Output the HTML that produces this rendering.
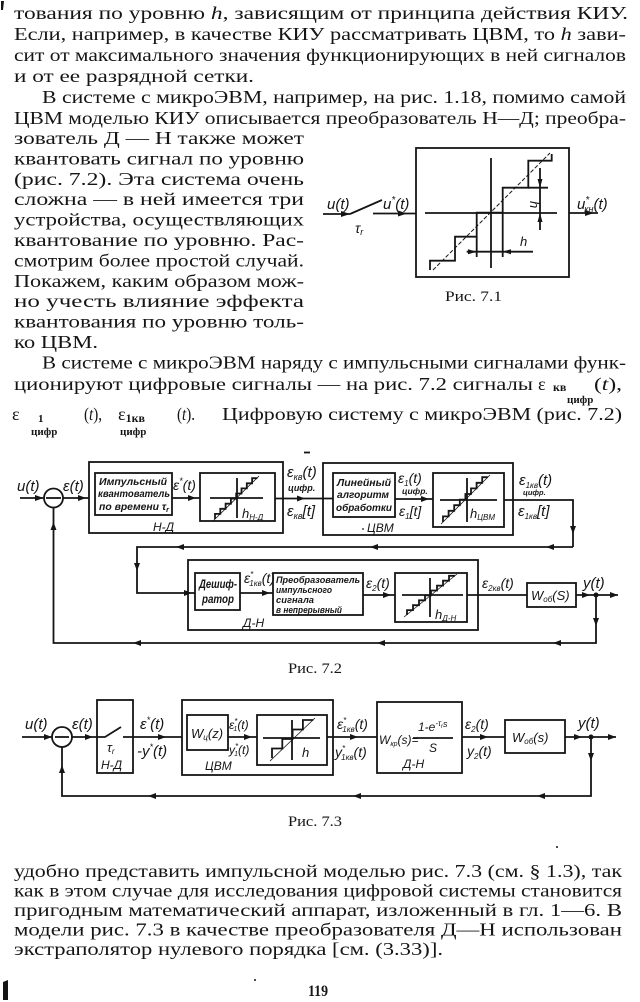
<!DOCTYPE html>
<html><head><meta charset="utf-8">
<style>
html,body{margin:0;padding:0;background:#fff;}
svg{display:block;}
.b{font-family:"Liberation Serif","DejaVu Serif",serif;font-size:18px;fill:#151515;}
.l{font-family:"Liberation Sans","DejaVu Sans",sans-serif;font-style:italic;fill:#151515;}
.c{font-family:"Liberation Serif","DejaVu Serif",serif;font-size:15px;fill:#151515;}
.s{stroke:#151515;stroke-width:1.8;fill:none;}
.a{fill:#151515;}
</style></head><body>
<svg width="640" height="1002" viewBox="0 0 640 1002" xmlns="http://www.w3.org/2000/svg">
<rect width="640" height="1002" fill="#fff"/>

<!-- page marks -->
<path d="M1 1 L4 1 L3 10 L1 10 Z" class="a"/>
<path d="M3 982 L8 980 L8 1000 L3 1000 Z" class="a"/>
<circle cx="255" cy="980" r="1" class="a"/>
<circle cx="557" cy="847" r="1" class="a"/>

<!-- top paragraph text -->
<text class="b" x="14" y="19" textLength="614" lengthAdjust="spacingAndGlyphs">тования по уровню <tspan font-style="italic">h</tspan>, зависящим от принципа действия КИУ.</text>
<text class="b" x="14" y="40" textLength="612" lengthAdjust="spacingAndGlyphs">Если, например, в качестве КИУ рассматривать ЦВМ, то <tspan font-style="italic">h</tspan> зави-</text>
<text class="b" x="14" y="61" textLength="612" lengthAdjust="spacingAndGlyphs">сит от максимального значения функционирующих в ней сигналов</text>
<text class="b" x="14" y="82" textLength="240" lengthAdjust="spacingAndGlyphs">и от ее разрядной сетки.</text>
<text class="b" x="42" y="103" textLength="584" lengthAdjust="spacingAndGlyphs">В системе с микроЭВМ, например, на рис. 1.18, помимо самой</text>
<text class="b" x="14" y="124" textLength="612" lengthAdjust="spacingAndGlyphs">ЦВМ моделью КИУ описывается преобразователь Н—Д; преобра-</text>
<text class="b" x="14" y="144" textLength="290" lengthAdjust="spacingAndGlyphs">зователь Д — Н также может</text>
<text class="b" x="14" y="164.4" textLength="290" lengthAdjust="spacingAndGlyphs">квантовать сигнал по уровню</text>
<text class="b" x="14" y="184.8" textLength="290" lengthAdjust="spacingAndGlyphs">(рис. 7.2). Эта система очень</text>
<text class="b" x="14" y="205.2" textLength="290" lengthAdjust="spacingAndGlyphs">сложна — в ней имеется три</text>
<text class="b" x="14" y="225.6" textLength="290" lengthAdjust="spacingAndGlyphs">устройства, осуществляющих</text>
<text class="b" x="14" y="246" textLength="290" lengthAdjust="spacingAndGlyphs">квантование по уровню. Рас-</text>
<text class="b" x="14" y="266.4" textLength="290" lengthAdjust="spacingAndGlyphs">смотрим более простой случай.</text>
<text class="b" x="14" y="286.8" textLength="290" lengthAdjust="spacingAndGlyphs">Покажем, каким образом мож-</text>
<text class="b" x="14" y="307.2" textLength="290" lengthAdjust="spacingAndGlyphs">но учесть влияние эффекта</text>
<text class="b" x="14" y="327.6" textLength="290" lengthAdjust="spacingAndGlyphs">квантования по уровню толь-</text>
<text class="b" x="14" y="348" textLength="84" lengthAdjust="spacingAndGlyphs">ко ЦВМ.</text>
<text class="b" x="42" y="368.5" textLength="584" lengthAdjust="spacingAndGlyphs">В системе с микроЭВМ наряду с импульсными сигналами функ-</text>
<text class="b" x="14" y="390" textLength="519" lengthAdjust="spacingAndGlyphs">ционируют цифровые сигналы — на рис. 7.2 сигналы</text>
<text class="b" x="538" y="390">ε</text>
<text class="b" x="553" y="391" style="font-size:12px;font-weight:bold">кв</text>
<text class="b" x="567" y="403" style="font-size:11px;font-weight:bold">цифр</text>
<text class="b" x="594" y="390" textLength="28" lengthAdjust="spacingAndGlyphs">(<tspan font-style="italic">t</tspan>),</text>
<text class="b" x="12" y="420">ε</text>
<text class="b" x="38" y="422" style="font-size:11px;font-weight:bold">1</text>
<text class="b" x="31" y="435" style="font-size:11px;font-weight:bold">цифр</text>
<text class="b" x="84" y="420" textLength="18" lengthAdjust="spacingAndGlyphs">(<tspan font-style="italic">t</tspan>),</text>
<text class="b" x="118" y="420">ε<tspan font-size="12" font-weight="bold" dy="2">1кв</tspan></text>
<text class="b" x="120" y="435" style="font-size:11px;font-weight:bold">цифр</text>
<text class="b" x="177" y="420" textLength="18" lengthAdjust="spacingAndGlyphs">(<tspan font-style="italic">t</tspan>).</text>
<text class="b" x="222" y="420" textLength="400" lengthAdjust="spacingAndGlyphs">Цифровую систему с микроЭВМ (рис. 7.2)</text>

<!-- Fig 7.1 -->
<g>
<rect x="416" y="148" width="153" height="129" class="s" stroke-width="2"/>
<line x1="425" y1="213" x2="557" y2="213" class="s" stroke-width="2.4"/>
<line x1="491" y1="158" x2="491" y2="268" class="s" stroke-width="1.5"/>
<polyline points="430,270 430,260.7 455,260.7 455,236.7 476.7,236.7 476.7,212.7 502.7,212.7 502.7,187.7 528.3,187.7 528.3,160.7 551.7,160.7 551.7,154" class="s" stroke-width="3"/>
<line x1="433" y1="270" x2="550" y2="153" stroke="#151515" stroke-width="1" stroke-dasharray="4 2"/>
<line x1="528" y1="187.7" x2="548" y2="187.7" class="s" stroke-width="1.2"/>
<line x1="540" y1="168" x2="540" y2="230" class="s" stroke-width="1.2"/>
<polygon points="540,187.7 537.5,179 542.5,179" class="a"/>
<polygon points="540,213 537.5,222 542.5,222" class="a"/>
<line x1="466.7" y1="251.7" x2="533" y2="251.7" class="s" stroke-width="1.2"/>
<line x1="476.7" y1="237" x2="476.7" y2="257" class="s" stroke-width="1.2"/>
<line x1="502.7" y1="213" x2="502.7" y2="257" class="s" stroke-width="1.2"/>
<polygon points="476.7,251.7 468,249.2 468,254.2" class="a"/>
<polygon points="502.7,251.7 511,249.2 511,254.2" class="a"/>
<text class="l" font-size="13" transform="translate(530,201) rotate(90)">h</text>
<text class="l" font-size="13" x="520" y="246">h</text>
<line x1="323" y1="214" x2="350" y2="214" class="s"/>
<polygon points="350,214 341,211 341,217" class="a"/>
<line x1="350" y1="214" x2="382" y2="200" class="s"/>
<line x1="373" y1="213.5" x2="416" y2="213.5" class="s"/>
<polygon points="407,213.5 398,210.5 398,216.5" class="a"/>
<line x1="569" y1="213" x2="598" y2="213" class="s"/>
<polygon points="594,213 585,210 585,216" class="a"/>
<text class="l" font-size="15" x="327" y="209">u(t)</text>
<text class="l" font-size="15" x="383" y="209">u<tspan font-size="10" dy="-6">*</tspan><tspan dy="6">(t)</tspan></text>
<text class="l" font-size="14" x="355" y="233">τ<tspan font-size="9" dy="2">r</tspan></text>
<text class="l" font-size="15" x="577" y="209">u<tspan font-size="10" dy="-6">*</tspan><tspan font-size="9" dy="9" dx="-5">кн</tspan><tspan dy="-3">(t)</tspan></text>
<text class="c" x="445" y="301" textLength="57" lengthAdjust="spacingAndGlyphs">Рис. 7.1</text>
</g>

<!-- Fig 7.2 -->
<g>
<line x1="304" y1="452.5" x2="310" y2="452.5" class="s" stroke-width="1.5"/>
<!-- row 1 -->
<line x1="20" y1="498" x2="43.5" y2="498" class="s"/>
<polygon points="43.5,498 35,495 35,501" class="a"/>
<circle cx="53.5" cy="498" r="9.5" class="s" stroke-width="2"/>
<line x1="46" y1="498" x2="61" y2="498" class="s" stroke-width="3"/>
<line x1="63" y1="498" x2="89" y2="498" class="s"/>
<polygon points="86,498 78,495 78,501" class="a"/>
<rect x="89" y="462" width="194" height="71" class="s"/>
<rect x="95" y="473" width="77" height="42" class="s" stroke-width="2"/>
<line x1="172" y1="498" x2="200" y2="498" class="s"/>
<polygon points="196,498 188,495 188,501" class="a"/>
<rect x="200" y="473" width="75" height="48" class="s" stroke-width="2"/>
<line x1="210" y1="498" x2="263" y2="498" class="s" stroke-width="1.3"/>
<line x1="237" y1="478" x2="237" y2="518" class="s" stroke-width="1.3"/>
<polyline points="215,519 215,513.9 220.3,513.9 220.3,508.8 225.6,508.8 225.6,503.7 230.9,503.7 230.9,498.6 236.2,498.6 236.2,493.5 241.5,493.5 241.5,488.4 246.8,488.4 246.8,483.3 252.1,483.3 252.1,478.2 257.4,478.2" class="s" stroke-width="1.8"/>
<line x1="213" y1="521" x2="259" y2="476" stroke="#151515" stroke-width="0.8"/>
<line x1="275" y1="498.5" x2="333" y2="498.5" class="s"/>
<polygon points="305,498.5 297,495.5 297,501.5" class="a"/>
<rect x="323" y="463" width="190" height="72" class="s"/>
<rect x="333" y="473" width="62" height="44" class="s" stroke-width="2"/>
<line x1="395" y1="499" x2="433" y2="499" class="s"/>
<polygon points="429,499 421,496 421,502" class="a"/>
<rect x="433" y="473" width="71" height="54" class="s" stroke-width="2"/>
<line x1="440" y1="500" x2="497" y2="500" class="s" stroke-width="1.3"/>
<line x1="467" y1="478" x2="467" y2="522" class="s" stroke-width="1.3"/>
<polyline points="443,522 443,516.4 448.6,516.4 448.6,510.8 454.2,510.8 454.2,505.2 459.8,505.2 459.8,499.6 465.4,499.6 465.4,494 471,494 471,488.4 476.6,488.4 476.6,482.8 482.2,482.8 482.2,477.2 487.8,477.2" class="s" stroke-width="1.8"/>
<line x1="441" y1="524" x2="490" y2="475" stroke="#151515" stroke-width="0.8"/>
<polyline points="504,500 573,500 573,547" class="s"/>
<polygon points="573,534 570,526 576,526" class="a"/>
<!-- return -->
<polyline points="573,547 137,547 137,593 195,593" class="s"/>
<polygon points="546,547 554,544 554,550" class="a"/>
<polygon points="370,547 378,544 378,550" class="a"/>
<polygon points="176,547 184,544 184,550" class="a"/>
<polygon points="137,571 134,563 140,563" class="a"/>
<polygon points="192,593 184,590 184,596" class="a"/>
<!-- row 2 -->
<rect x="188" y="560" width="290" height="70" class="s"/>
<rect x="195" y="573" width="45" height="37" class="s" stroke-width="2"/>
<line x1="240" y1="593" x2="273" y2="593" class="s"/>
<polygon points="270,593 262,590 262,596" class="a"/>
<rect x="273" y="573" width="90" height="42" class="s" stroke-width="2"/>
<line x1="363" y1="595" x2="395" y2="595" class="s"/>
<polygon points="391,595 383,592 383,598" class="a"/>
<rect x="395" y="573" width="72" height="49" class="s" stroke-width="2"/>
<line x1="402" y1="595" x2="463" y2="595" class="s" stroke-width="1.3"/>
<line x1="430" y1="578" x2="430" y2="617" class="s" stroke-width="1.3"/>
<polyline points="407,615 407,610.1 413,610.1 413,605.2 419,605.2 419,600.3 425,600.3 425,595.4 431,595.4 431,590.5 437,590.5 437,585.6 443,585.6 443,580.7 449,580.7 449,575.8 455,575.8" class="s" stroke-width="1.8"/>
<line x1="404" y1="617" x2="457" y2="574" stroke="#151515" stroke-width="0.8"/>
<line x1="467" y1="595" x2="527" y2="595" class="s"/>
<rect x="527" y="583" width="49" height="24" class="s" stroke-width="2"/>
<line x1="576" y1="595" x2="618" y2="595" class="s"/>
<polygon points="590,595 582,592 582,598" class="a"/>
<polygon points="618,595 610,592 610,598" class="a"/>
<circle cx="596" cy="595" r="2.5" class="a"/>
<polyline points="596,595 596,643 53.5,643 53.5,507.5" class="s"/>
<polygon points="596,626 593,618 599,618" class="a"/>
<polygon points="553,643 561,640 561,646" class="a"/>
<polygon points="377,643 385,640 385,646" class="a"/>
<polygon points="133,643 141,640 141,646" class="a"/>
<polygon points="53.5,522 50.5,530 56.5,530" class="a"/>
<!-- labels -->
<text class="l" font-size="15" x="17" y="491">u(t)</text>
<text class="l" font-size="15" x="63" y="491">ε(t)</text>
<text class="l" font-size="10" x="99" y="485" textLength="68" lengthAdjust="spacingAndGlyphs" font-weight="bold">Импульсный</text>
<text class="l" font-size="10" x="98" y="497" textLength="72" lengthAdjust="spacingAndGlyphs" font-weight="bold">квантователь</text>
<text class="l" font-size="10" x="99" y="510" textLength="70" lengthAdjust="spacingAndGlyphs" font-weight="bold">по времени τ<tspan font-size="7" dy="2">r</tspan></text>
<text class="l" font-size="14" x="173" y="490">ε<tspan font-size="9" dy="-6">*</tspan><tspan dy="6">(t)</tspan></text>
<text class="l" font-size="13" x="242" y="518">h<tspan font-size="8" dy="2">Н-Д</tspan></text>
<text class="l" font-size="12" x="153" y="531">Н-Д</text>
<text class="l" font-size="15" x="287" y="477">ε<tspan font-size="9" dy="3">кв</tspan><tspan dy="-3">(t)</tspan></text>
<text class="l" font-size="9" x="288" y="491" font-weight="bold">цифр.</text>
<text class="l" font-size="15" x="287" y="516">ε<tspan font-size="9" dy="3">кв</tspan><tspan dy="-3">[t]</tspan></text>
<text class="l" font-size="10" x="337" y="486" textLength="54" lengthAdjust="spacingAndGlyphs" font-weight="bold">Линейный</text>
<text class="l" font-size="10" x="337" y="498" textLength="52" lengthAdjust="spacingAndGlyphs" font-weight="bold">алгоритм</text>
<text class="l" font-size="10" x="336" y="511" textLength="56" lengthAdjust="spacingAndGlyphs" font-weight="bold">обработки</text>
<text class="l" font-size="14" x="398" y="483">ε<tspan font-size="8" dy="3">1</tspan><tspan dy="-3">(t)</tspan></text>
<text class="l" font-size="8.5" x="402" y="494" font-weight="bold">цифр.</text>
<text class="l" font-size="14" x="399" y="516">ε<tspan font-size="8" dy="3">1</tspan><tspan dy="-3">[t]</tspan></text>
<text class="l" font-size="13" x="470" y="518">h<tspan font-size="8" dy="2">ЦВМ</tspan></text>
<text class="l" font-size="12" x="367" y="532">ЦВМ</text>
<circle cx="363" cy="529" r="0.9" class="a"/>
<text class="l" font-size="15" x="519" y="485">ε<tspan font-size="8" dy="3">1кв</tspan><tspan dy="-3">(t)</tspan></text>
<text class="l" font-size="7.5" x="523" y="495" font-weight="bold">цифр.</text>
<text class="l" font-size="15" x="518" y="516">ε<tspan font-size="8" dy="3">1кв</tspan><tspan dy="-3">[t]</tspan></text>
<text class="l" font-size="12" x="199" y="588" font-weight="bold" textLength="38" lengthAdjust="spacingAndGlyphs">Дешиф-</text>
<text class="l" font-size="12" x="202" y="603" font-weight="bold" textLength="32" lengthAdjust="spacingAndGlyphs">ратор</text>
<text class="l" font-size="14" x="244" y="583">ε<tspan font-size="8" dy="-6">*</tspan><tspan font-size="8" dy="9" dx="-4">1кв</tspan><tspan dy="-3">(t)</tspan></text>
<text class="l" font-size="9" x="276" y="583" textLength="84" lengthAdjust="spacingAndGlyphs" font-weight="bold">Преобразователь</text>
<text class="l" font-size="9" x="276" y="593" textLength="56" lengthAdjust="spacingAndGlyphs" font-weight="bold">импульсного</text>
<text class="l" font-size="9" x="276" y="603" textLength="38" lengthAdjust="spacingAndGlyphs" font-weight="bold">сигнала</text>
<text class="l" font-size="9" x="276" y="613" textLength="66" lengthAdjust="spacingAndGlyphs" font-weight="bold">в непрерывный</text>
<text class="l" font-size="14" x="366" y="588">ε<tspan font-size="8" dy="3">2</tspan><tspan dy="-3">(t)</tspan></text>
<text class="l" font-size="13" x="435" y="619">h<tspan font-size="8" dy="2">Д-Н</tspan></text>
<text class="l" font-size="12" x="243" y="627">Д-Н</text>
<text class="l" font-size="14" x="482" y="588">ε<tspan font-size="8" dy="3">2кв</tspan><tspan dy="-3">(t)</tspan></text>
<text class="l" font-size="13" x="531" y="600">W<tspan font-size="8" dy="2">об</tspan><tspan dy="-2">(S)</tspan></text>
<text class="l" font-size="15" x="583" y="588">y(t)</text>
<text class="c" x="288" y="673" textLength="54" lengthAdjust="spacingAndGlyphs">Рис. 7.2</text>
</g>

<!-- Fig 7.3 -->
<g>
<line x1="22" y1="737" x2="52" y2="737" class="s"/>
<polygon points="52,737 44,734 44,740" class="a"/>
<circle cx="62" cy="737" r="10" class="s" stroke-width="2"/>
<line x1="55" y1="737" x2="69" y2="737" class="s" stroke-width="3"/>
<line x1="72" y1="737" x2="97" y2="737" class="s"/>
<polygon points="93,737 85,734 85,740" class="a"/>
<rect x="97" y="700" width="36" height="73" class="s"/>
<polyline points="97,737 105,737 121,727" class="s"/>
<line x1="123" y1="737" x2="182" y2="737" class="s"/>
<polygon points="166,737 158,734 158,740" class="a"/>
<rect x="182" y="700" width="151" height="75" class="s"/>
<rect x="187" y="715" width="41" height="35" class="s" stroke-width="2"/>
<line x1="228" y1="737" x2="257" y2="737" class="s"/>
<polygon points="252,737 244,734 244,740" class="a"/>
<rect x="257" y="715" width="70" height="50" class="s" stroke-width="2"/>
<line x1="263" y1="738" x2="320" y2="738" class="s" stroke-width="1.3"/>
<line x1="292" y1="720" x2="292" y2="760" class="s" stroke-width="1.3"/>
<polyline points="272,758 272,748.5 282.3,748.5 282.3,739 292.6,739 292.6,729.5 302.9,729.5 302.9,720 313.2,720" class="s" stroke-width="1.8"/>
<line x1="270" y1="761" x2="315" y2="718" stroke="#151515" stroke-width="0.8"/>
<line x1="327" y1="737" x2="377" y2="737" class="s"/>
<polygon points="358,737 350,734 350,740" class="a"/>
<rect x="377" y="702" width="85" height="71" class="s" stroke-width="2"/>
<line x1="413" y1="738" x2="453" y2="738" class="s" stroke-width="1.3"/>
<line x1="462" y1="737" x2="505" y2="737" class="s"/>
<polygon points="488,737 480,734 480,740" class="a"/>
<rect x="505" y="720" width="60" height="33" class="s" stroke-width="2"/>
<line x1="565" y1="737" x2="616" y2="737" class="s"/>
<polygon points="582,737 574,734 574,740" class="a"/>
<polygon points="616,737 608,734 608,740" class="a"/>
<circle cx="591" cy="737" r="2.5" class="a"/>
<polyline points="591,737 591,796 62,796 62,747" class="s"/>
<polygon points="591,761 588,753 594,753" class="a"/>
<polygon points="537,796 545,793 545,799" class="a"/>
<polygon points="353,796 361,793 361,799" class="a"/>
<polygon points="148,796 156,793 156,799" class="a"/>
<polygon points="62,765 59,773 65,773" class="a"/>
<!-- labels -->
<text class="l" font-size="15" x="25" y="729">u(t)</text>
<text class="l" font-size="15" x="72" y="729">ε(t)</text>
<text class="l" font-size="13" x="107" y="752">τ<tspan font-size="8" dy="2">r</tspan></text>
<text class="l" font-size="12" x="101" y="769">Н-Д</text>
<text class="l" font-size="15" x="140" y="729">ε<tspan font-size="9" dy="-6">*</tspan><tspan dy="6">(t)</tspan></text>
<text class="l" font-size="15" x="137" y="756">-y<tspan font-size="9" dy="-6">*</tspan><tspan dy="6">(t)</tspan></text>
<text class="l" font-size="13" x="191" y="738">W<tspan font-size="8" dy="2">ц</tspan><tspan dy="-2">(z)</tspan></text>
<text class="l" font-size="12" x="229" y="729">ε<tspan font-size="8" dy="-5">*</tspan><tspan font-size="7" dy="7" dx="-4">1</tspan><tspan dy="-2">(t)</tspan></text>
<text class="l" font-size="12" x="229" y="754">y<tspan font-size="8" dy="-5">*</tspan><tspan font-size="7" dy="7" dx="-4">1</tspan><tspan dy="-2">(t)</tspan></text>
<text class="l" font-size="13" x="302" y="757">h</text>
<text class="l" font-size="12" x="205" y="770">ЦВМ</text>
<text class="l" font-size="14" x="337" y="729">ε<tspan font-size="8" dy="-6">*</tspan><tspan font-size="8" dy="9" dx="-4">1кв</tspan><tspan dy="-3">(t)</tspan></text>
<text class="l" font-size="14" x="335" y="757">y<tspan font-size="8" dy="-6">*</tspan><tspan font-size="8" dy="9" dx="-4">1кв</tspan><tspan dy="-3">(t)</tspan></text>
<text class="l" font-size="12" x="379" y="744">W<tspan font-size="7" dy="2">кр</tspan><tspan dy="-2">(s)=</tspan></text>
<text class="l" font-size="12" x="418" y="731">1-e<tspan font-size="8" dy="-5">-τ</tspan><tspan font-size="6" dy="2">r</tspan><tspan font-size="9" dy="-1">s</tspan></text>
<text class="l" font-size="12" x="429" y="752">S</text>
<text class="l" font-size="12" x="403" y="768">Д-Н</text>
<text class="l" font-size="14" x="465" y="729">ε<tspan font-size="8" dy="3">2</tspan><tspan dy="-3">(t)</tspan></text>
<text class="l" font-size="14" x="467" y="756">y<tspan font-size="8" dy="3">2</tspan><tspan dy="-3">(t)</tspan></text>
<text class="l" font-size="13" x="512" y="742">W<tspan font-size="8" dy="2">об</tspan><tspan dy="-2">(s)</tspan></text>
<text class="l" font-size="15" x="578" y="728">y(t)</text>
<text class="c" x="288" y="826" textLength="54" lengthAdjust="spacingAndGlyphs">Рис. 7.3</text>
</g>

<!-- bottom paragraph -->
<text class="b" x="14" y="877" textLength="608" lengthAdjust="spacingAndGlyphs">удобно представить импульсной моделью рис. 7.3 (см. § 1.3), так</text>
<text class="b" x="14" y="896.5" textLength="608" lengthAdjust="spacingAndGlyphs">как в этом случае для исследования цифровой системы становится</text>
<text class="b" x="14" y="916" textLength="608" lengthAdjust="spacingAndGlyphs">пригодным математический аппарат, изложенный в гл. 1—6. В</text>
<text class="b" x="14" y="935.5" textLength="608" lengthAdjust="spacingAndGlyphs">модели рис. 7.3 в качестве преобразователя Д—Н использован</text>
<text class="b" x="14" y="955" textLength="429" lengthAdjust="spacingAndGlyphs">экстраполятор нулевого порядка [см. (3.33)].</text>
<text class="b" x="308" y="996" style="font-size:16px;font-weight:bold" textLength="20" lengthAdjust="spacingAndGlyphs">119</text>
</svg>
</body></html>
